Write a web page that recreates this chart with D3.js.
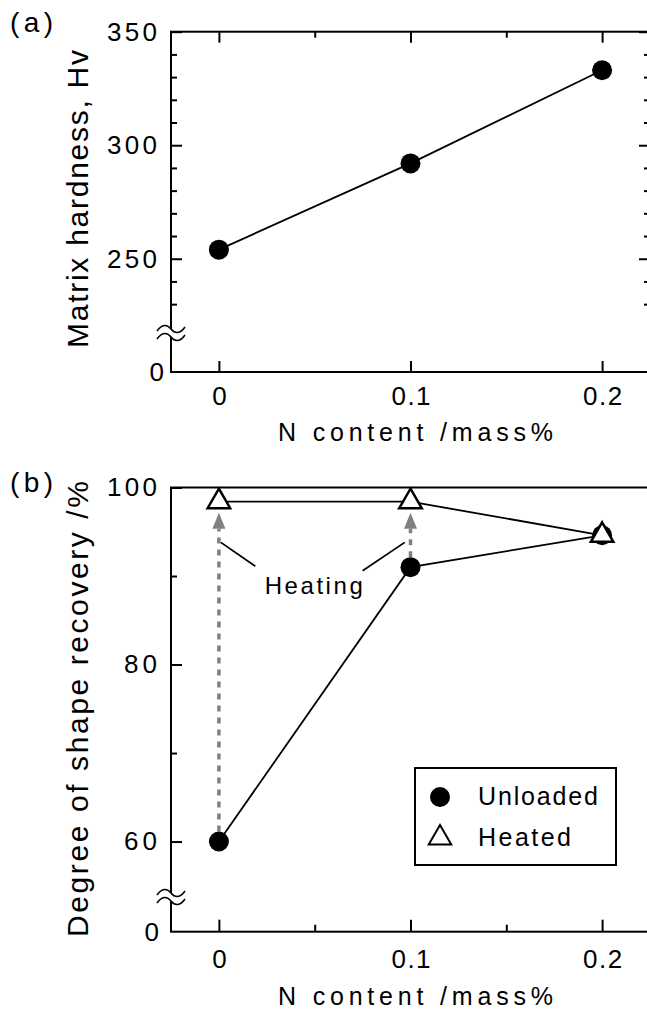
<!DOCTYPE html>
<html>
<head>
<meta charset="utf-8">
<script src="https://cdn.jsdelivr.net/npm/d3@7"></script>
<style>
  html, body { margin: 0; padding: 0; background: #fff; }
</style>
</head>
<body>
<script>
// data
var nContent = [0, 0.1, 0.2];
var xTicksMajor = [0, 0.1, 0.2];
var xTicksMinor = [0.05, 0.15];

var hardness = [254, 292, 333];
var hardnessTicks = [250, 300, 350];
var hardnessMinor = [230, 240, 260, 270, 280, 290, 310, 320, 330, 340];

var unloaded = [60, 91, 94.6];
var heated = [98.4, 98.4, 94.6];
var recoveryTicks = [60, 80, 100];
var recoveryMinor = [70, 90];

var legendLabels = ["Unloaded", "Heated"];
var heatingNote = { label: "Heating", x: 0.0495, y: 88 };
var heatingLeaders = [
  [[0.001, 93.8], [0.019, 91.1]],
  [[0.075, 90.6], [0.097, 93.8]]
];

var FONT = "'Liberation Sans', Arial, sans-serif";
var W = 647, H = 1009;

var svg = d3.select("body")
  .append("svg")
  .attr("width", W)
  .attr("height", H)
  .attr("font-family", FONT);

var x = d3.scaleLinear().domain([-0.025, 0.225]).range([171, 650]);

// tick label widths in the original are wide, so stretch them a bit
function labelWidth(s) {
  if (s.length === 3) return s.indexOf(".") >= 0 ? 39 : 50;
  if (s.length === 2) return 33;
  return null;
}

function styleAxis(g, fs) {
  g.attr("font-family", FONT).attr("font-size", fs);
  g.select(".domain").remove();
  g.selectAll("line").attr("stroke", "#000").attr("stroke-width", 2);
  g.selectAll("text")
    .attr("fill", "#000")
    .style("font-size", fs + "px")
    .each(function () {
      var t = d3.select(this);
      var w = labelWidth(t.text());
      if (w) t.attr("textLength", w).attr("lengthAdjust", "spacing");
    });
}

function frame(top, bottom) {
  svg.append("rect")
    .attr("x", x.range()[0]).attr("y", top)
    .attr("width", x.range()[1] - x.range()[0])
    .attr("height", bottom - top)
    .attr("fill", "none")
    .attr("stroke", "#000")
    .attr("stroke-width", 2);
}

function axisBreak(yc) {
  var g = svg.append("g").attr("transform", "translate(" + x.range()[0] + "," + yc + ")");
  g.append("rect").attr("x", -3).attr("y", -4).attr("width", 6).attr("height", 8).attr("fill", "#fff");
  [-4, 4].forEach(function (dy) {
    g.append("path")
      .attr("d", "M-14," + (dy + 2) + " C-9," + (dy - 5) + " -4," + (dy - 5) + " 0," + dy +
        " S9," + (dy + 5) + " 14," + (dy - 2))
      .attr("fill", "none")
      .attr("stroke", "#000")
      .attr("stroke-width", 1.6);
  });
}

// ---------- panel (a) ----------
var ya = d3.scaleLinear().domain([0, 215, 350]).range([372, 338.2, 31.7]);

frame(ya(350), ya(0));

svg.append("g").attr("transform", "translate(171,0)")
  .call(d3.axisLeft(ya).tickValues(hardnessTicks).tickSize(-11).tickPadding(14))
  .call(styleAxis, 26);
svg.append("g").attr("transform", "translate(171,0)")
  .call(d3.axisLeft(ya).tickValues(hardnessMinor).tickSize(-6).tickFormat(""))
  .call(styleAxis, 26);
svg.append("g").attr("transform", "translate(171,0)")
  .call(d3.axisLeft(ya).tickValues([0]).tickSize(0).tickPadding(7))
  .call(styleAxis, 26);
svg.append("g").attr("transform", "translate(650,0)")
  .call(d3.axisRight(ya).tickValues(hardnessTicks).tickSize(-11).tickFormat(""))
  .call(styleAxis, 26);
svg.append("g").attr("transform", "translate(650,0)")
  .call(d3.axisRight(ya).tickValues(hardnessMinor).tickSize(-6).tickFormat(""))
  .call(styleAxis, 26);
svg.append("g").attr("transform", "translate(0," + ya(350) + ")")
  .call(d3.axisTop(x).tickValues(xTicksMajor).tickSize(-11).tickFormat(""))
  .call(styleAxis, 26);
svg.append("g").attr("transform", "translate(0," + ya(350) + ")")
  .call(d3.axisTop(x).tickValues(xTicksMinor).tickSize(-6).tickFormat(""))
  .call(styleAxis, 26);
svg.append("g").attr("transform", "translate(0," + ya(0) + ")")
  .call(d3.axisBottom(x).tickValues(xTicksMajor).tickSize(-11).tickPadding(15)
    .tickFormat(function (d) { return d === 0 ? "0" : d3.format(".1f")(d); }))
  .call(styleAxis, 26);

axisBreak(333);

svg.append("path")
  .datum(nContent.map(function (d, i) { return [d, hardness[i]]; }))
  .attr("d", d3.line().x(function (d) { return x(d[0]); }).y(function (d) { return ya(d[1]); }))
  .attr("fill", "none").attr("stroke", "#000").attr("stroke-width", 1.8);

svg.selectAll(".ptA")
  .data(hardness)
  .enter()
  .append("circle")
  .attr("cx", function (d, i) { return x(nContent[i]); })
  .attr("cy", function (d) { return ya(d); })
  .attr("r", 10)
  .attr("fill", "#000");

svg.append("text").attr("transform", "translate(88,199) rotate(-90)")
  .attr("text-anchor", "middle").attr("font-size", 30)
  .attr("textLength", 298).attr("lengthAdjust", "spacing")
  .text("Matrix hardness, Hv");

svg.append("text").attr("x", 415.5).attr("y", 441)
  .attr("text-anchor", "middle").attr("font-size", 25)
  .attr("textLength", 275).attr("lengthAdjust", "spacing")
  .text("N content /mass%");

svg.append("text").attr("x", 10).attr("y", 32)
  .attr("font-size", 28).attr("textLength", 43).attr("lengthAdjust", "spacing")
  .text("(a)");

// ---------- panel (b) ----------
var yb = d3.scaleLinear().domain([0, 53, 100]).range([931.7, 903.5, 487.5]);

frame(yb(100), yb(0));

svg.append("g").attr("transform", "translate(171,0)")
  .call(d3.axisLeft(yb).tickValues(recoveryTicks).tickSize(-11).tickPadding(14))
  .call(styleAxis, 26);
svg.append("g").attr("transform", "translate(171,0)")
  .call(d3.axisLeft(yb).tickValues(recoveryMinor).tickSize(-6).tickFormat(""))
  .call(styleAxis, 26);
svg.append("g").attr("transform", "translate(171,0)")
  .call(d3.axisLeft(yb).tickValues([0]).tickSize(0).tickPadding(12))
  .call(styleAxis, 26);
svg.append("g").attr("transform", "translate(0," + yb(0) + ")")
  .call(d3.axisBottom(x).tickValues(xTicksMajor).tickSize(-12).tickPadding(18)
    .tickFormat(function (d) { return d === 0 ? "0" : d3.format(".1f")(d); }))
  .call(styleAxis, 26);
svg.append("g").attr("transform", "translate(0," + yb(0) + ")")
  .call(d3.axisBottom(x).tickValues(xTicksMinor).tickSize(-7).tickFormat(""))
  .call(styleAxis, 26);

axisBreak(897);

var lineB = d3.line().x(function (d) { return x(d[0]); }).y(function (d) { return yb(d[1]); });

// heating arrows (grey, dotted)
var grey = "#808080";
[0, 1].forEach(function (i) {
  var cx = x(nContent[i]);
  var tip = yb(heated[i]) + 11;
  var base = tip + 16;
  svg.append("line")
    .attr("x1", cx).attr("x2", cx)
    .attr("y1", yb(unloaded[i]) - 10).attr("y2", base)
    .attr("stroke", grey).attr("stroke-width", 3.5)
    .attr("stroke-dasharray", "6,6");
  var p = d3.path();
  p.moveTo(cx, tip);
  p.lineTo(cx + 6.5, base);
  p.lineTo(cx - 6.5, base);
  p.closePath();
  svg.append("path").attr("d", p.toString()).attr("fill", grey);
});

heatingLeaders.forEach(function (seg) {
  svg.append("path").attr("d", lineB(seg))
    .attr("fill", "none").attr("stroke", "#000").attr("stroke-width", 1.8);
});

svg.append("text")
  .attr("x", x(heatingNote.x)).attr("y", yb(heatingNote.y))
  .attr("text-anchor", "middle").attr("font-size", 24)
  .attr("textLength", 98).attr("lengthAdjust", "spacing")
  .text(heatingNote.label);

svg.append("path")
  .datum(nContent.map(function (d, i) { return [d, unloaded[i]]; }))
  .attr("d", lineB)
  .attr("fill", "none").attr("stroke", "#000").attr("stroke-width", 1.8);
svg.append("path")
  .datum(nContent.map(function (d, i) { return [d, heated[i]]; }))
  .attr("d", lineB)
  .attr("fill", "none").attr("stroke", "#000").attr("stroke-width", 1.8);

svg.selectAll(".ptU")
  .data(unloaded)
  .enter()
  .append("circle")
  .attr("cx", function (d, i) { return x(nContent[i]); })
  .attr("cy", function (d) { return yb(d); })
  .attr("r", 10)
  .attr("fill", "#000");

var tri = d3.symbol().type(d3.symbolTriangle).size(220);
svg.selectAll(".ptH")
  .data(heated)
  .enter()
  .append("path")
  .attr("d", tri)
  .attr("transform", function (d, i) { return "translate(" + x(nContent[i]) + "," + yb(d) + ")"; })
  .attr("fill", "#fff")
  .attr("stroke", "#000")
  .attr("stroke-width", 2.5);

// legend
var lg = svg.append("g").attr("transform", "translate(415,768)");
lg.append("rect").attr("width", 201).attr("height", 97)
  .attr("fill", "#fff").attr("stroke", "#000").attr("stroke-width", 2);
lg.append("circle").attr("cx", 25).attr("cy", 29).attr("r", 10).attr("fill", "#000");
lg.append("path").attr("d", tri).attr("transform", "translate(25,70)")
  .attr("fill", "#fff").attr("stroke", "#000").attr("stroke-width", 2);
lg.selectAll("text")
  .data(legendLabels)
  .enter()
  .append("text")
  .attr("x", 63)
  .attr("y", function (d, i) { return 37 + i * 41; })
  .attr("font-size", 25)
  .attr("textLength", function (d, i) { return i === 0 ? 120 : 93; })
  .attr("lengthAdjust", "spacing")
  .text(function (d) { return d; });

svg.append("text").attr("transform", "translate(88,709) rotate(-90)")
  .attr("text-anchor", "middle").attr("font-size", 30)
  .attr("textLength", 456).attr("lengthAdjust", "spacing")
  .text("Degree of shape recovery /%");

svg.append("text").attr("x", 415.5).attr("y", 1005)
  .attr("text-anchor", "middle").attr("font-size", 25)
  .attr("textLength", 275).attr("lengthAdjust", "spacing")
  .text("N content /mass%");

svg.append("text").attr("x", 10).attr("y", 492)
  .attr("font-size", 28).attr("textLength", 43).attr("lengthAdjust", "spacing")
  .text("(b)");
</script>
</body>
</html>
